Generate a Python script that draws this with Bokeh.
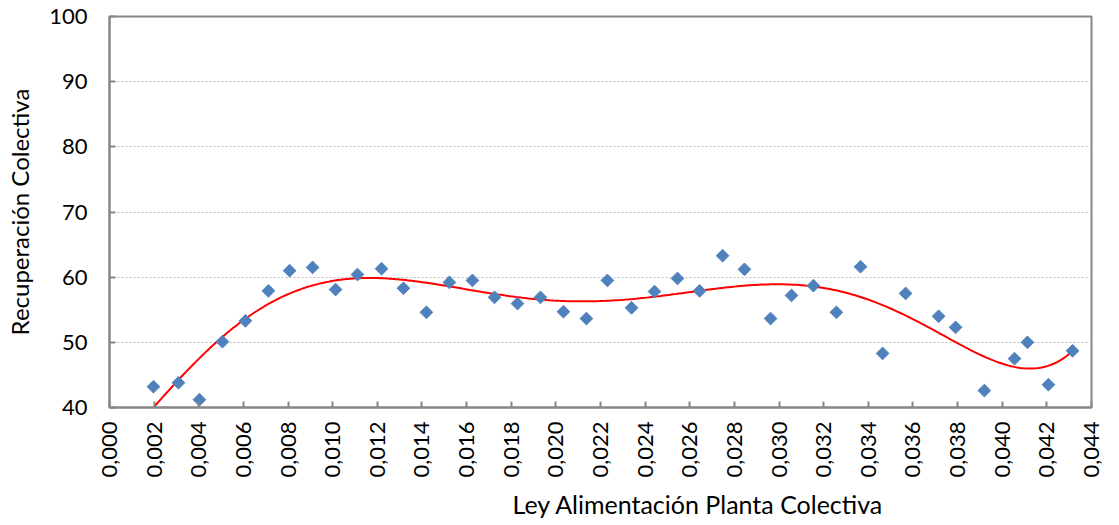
import numpy as np
from bokeh.plotting import figure
from bokeh.models import Range1d, FixedTicker, CustomJSTickFormatter, Title
from bokeh.embed import file_html
from bokeh.resources import INLINE

ley = [0.00197, 0.00309, 0.00403, 0.00506, 0.00609, 0.00712, 0.00807, 0.00910, 0.01013, 0.01111,
       0.01219, 0.01317, 0.01420, 0.01523, 0.01626, 0.01725, 0.01828, 0.01931, 0.02034, 0.02137,
       0.02231, 0.02339, 0.02442, 0.02545, 0.02644, 0.02747, 0.02845, 0.02962, 0.03056, 0.03154,
       0.03257, 0.03365, 0.03464, 0.03567, 0.03715, 0.03791, 0.03920, 0.04055, 0.04113, 0.04207,
       0.04315]
recup = [43.2, 43.8, 41.2, 50.1, 53.3, 57.9, 61.0, 61.5, 58.1, 60.4,
         61.3, 58.3, 54.6, 59.2, 59.5, 56.9, 55.95, 56.9, 54.7, 53.65,
         59.5, 55.3, 57.8, 59.8, 57.9, 63.3, 61.2, 53.65, 57.2, 58.7,
         54.6, 61.6, 48.3, 57.5, 54.0, 52.3, 42.6, 47.5, 50.0, 43.5,
         48.7]
x_ticks = [0.000, 0.002, 0.004, 0.006, 0.008, 0.010, 0.012, 0.014, 0.016, 0.018, 0.020, 0.022,
           0.024, 0.026, 0.028, 0.030, 0.032, 0.034, 0.036, 0.038, 0.040, 0.042, 0.044]
y_ticks = [40, 50, 60, 70, 80, 90, 100]
x_title = "Ley Alimentación Planta Colectiva"
y_title = "Recuperación Colectiva"

# Polynomial trend line fitted to the data, like the spreadsheet trendline
xa = np.array(ley)
coef = np.polyfit(xa, np.array(recup), 6)
xf = np.linspace(xa.min(), xa.max(), 300)
yf = np.polyval(coef, xf)

FONT = "Lato"

p = figure(width=1119, height=525, output_backend="svg", toolbar_location=None,
           x_range=Range1d(0, 0.044), y_range=Range1d(40, 100),
           min_border_left=109, min_border_right=28, min_border_top=16, min_border_bottom=118)
p.background_fill_color = "white"
p.border_fill_color = "white"
p.outline_line_color = "#868686"
p.outline_line_width = 2

p.line(xf, yf, line_color="#FF0000", line_width=2)
p.scatter(ley, recup, marker="square", size=9, angle=np.pi / 4,
          fill_color="#4F81BD", line_color="#4F81BD")

p.xaxis.ticker = FixedTicker(ticks=x_ticks)
p.yaxis.ticker = FixedTicker(ticks=y_ticks)
p.xaxis.formatter = CustomJSTickFormatter(code="return tick.toFixed(3).replace('.', ',');")
p.xaxis.major_label_orientation = np.pi / 2

for ax in (p.xaxis, p.yaxis):
    ax.axis_line_color = "#868686"
    ax.axis_line_width = 2
    ax.major_tick_line_color = "#868686"
    ax.major_tick_line_width = 2
    ax.major_tick_in = 6
    ax.major_tick_out = 0
    ax.minor_tick_line_color = None
    ax.major_label_text_font = FONT
    ax.major_label_text_font_size = "22px"
    ax.major_label_text_color = "black"
    ax.axis_label_text_font = FONT
    ax.axis_label_text_font_size = "24px"
    ax.axis_label_text_font_style = "normal"
    ax.axis_label_text_color = "black"

p.xaxis.major_label_standoff = 14
p.yaxis.major_label_standoff = 22
p.yaxis.axis_label = y_title
p.yaxis.axis_label_standoff = 12

# x-axis title, placed right of centre as in the original
p.add_layout(Title(text=x_title, align="left", offset=403, text_font=FONT,
                   text_font_size="25px", text_font_style="normal", text_color="black",
                   standoff=12), "below")

p.xgrid.grid_line_color = None
p.ygrid.grid_line_color = "#BFBFBF"
p.ygrid.grid_line_dash = "2 2"
p.ygrid.grid_line_width = 1

open("out.html", "w").write(file_html(p, INLINE))
